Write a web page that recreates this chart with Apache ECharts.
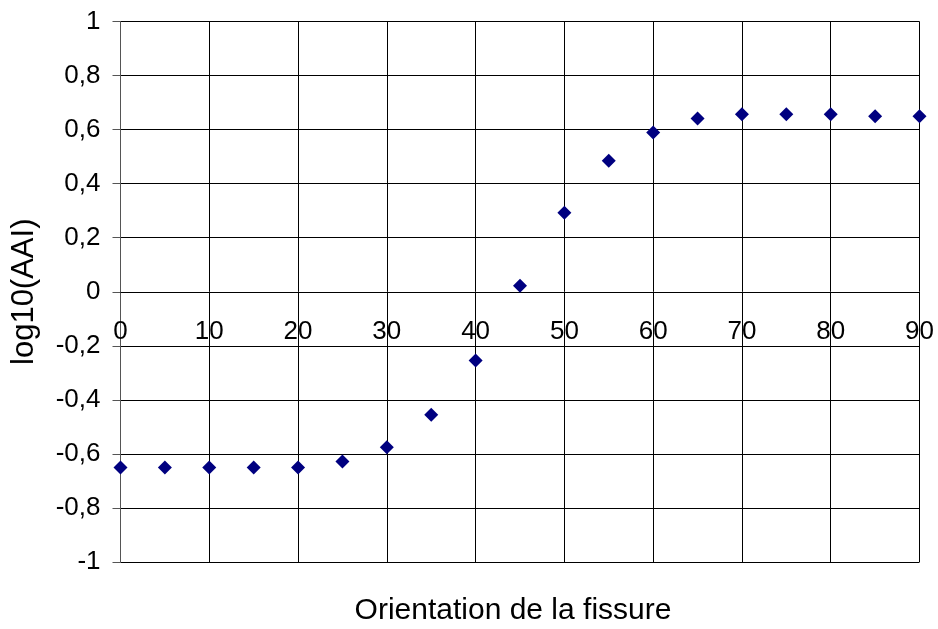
<!DOCTYPE html>
<html>
<head>
<meta charset="utf-8">
<script src="https://cdn.jsdelivr.net/npm/echarts@6/dist/echarts.min.js"></script>
<style>
  html, body { margin: 0; padding: 0; background: #fff; }
  #chart { width: 938px; height: 629px; }
</style>
</head>
<body>
<div id="chart"></div>
<script>
// Crack orientation (degrees) and log10 of the AAI value
const orientations = [0, 5, 10, 15, 20, 25, 30, 35, 40, 45, 50, 55, 60, 65, 70, 75, 80, 85, 90];
const logAAI = [-0.65, -0.65, -0.65, -0.65, -0.65, -0.628, -0.575, -0.455, -0.254, 0.022,
                0.292, 0.485, 0.589, 0.641, 0.657, 0.657, 0.657, 0.649, 0.649];

const xTitle = 'Orientation de la fissure';
const yTitle = 'log10(AAI)';

const FONT = '"Liberation Sans", Arial, sans-serif';
const fmt = v => String(+v.toFixed(2)).replace('.', ',');

const GRID = { left: 120.5, right: 18.5, top: 21.5, bottom: 67 };
const plotH = 629 - GRID.top - GRID.bottom;
const Y_MIN = -1, Y_MAX = 1;

const chart = echarts.init(document.getElementById('chart'), null, { renderer: 'canvas' });

chart.setOption({
  animation: false,
  backgroundColor: '#ffffff',
  grid: GRID,
  xAxis: {
    type: 'value',
    min: 0, max: 90, interval: 10,
    position: 'bottom',
    // lift the horizontal axis line up to the y = 0 level
    offset: -plotH * (0 - Y_MIN) / (Y_MAX - Y_MIN),
    axisLine: { onZero: false, lineStyle: { color: '#000', width: 1 } },
    axisTick: { show: false },
    axisLabel: { margin: 27, fontSize: 26, color: '#000', fontFamily: FONT, formatter: fmt },
    splitLine: { show: true, lineStyle: { color: '#000', width: 1 } }
  },
  yAxis: {
    type: 'value',
    min: Y_MIN, max: Y_MAX, interval: 0.2,
    name: yTitle,
    nameLocation: 'middle',
    nameGap: 81,
    nameTextStyle: { fontSize: 31, color: '#000', fontFamily: FONT },
    axisLine: { show: true, lineStyle: { color: '#555', width: 1 } },
    axisTick: { show: true, inside: false, length: 8, lineStyle: { color: '#555' } },
    axisLabel: { margin: 20, fontSize: 26, color: '#000', fontFamily: FONT, formatter: fmt },
    splitLine: { show: true, lineStyle: { color: '#000', width: 1 } }
  },
  graphic: [{
    type: 'text',
    x: 513,
    y: 610.5,
    style: {
      text: xTitle,
      font: '30px ' + FONT,
      fill: '#000',
      textAlign: 'center',
      textVerticalAlign: 'middle'
    }
  }],
  series: [{
    type: 'scatter',
    data: orientations.map((o, i) => [o, logAAI[i]]),
    symbol: 'diamond',
    symbolSize: 14,
    itemStyle: { color: '#000080', opacity: 1 }
  }]
});
</script>
</body>
</html>
